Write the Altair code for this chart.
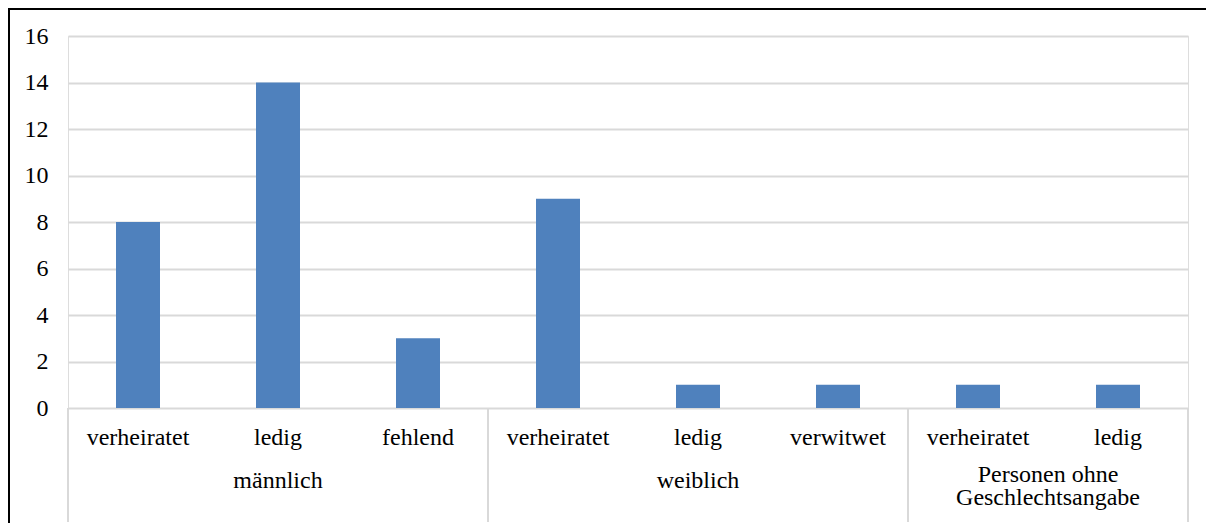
import altair as alt
import pandas as pd

# ---- data ----
groups = ["männlich", "männlich", "männlich",
          "weiblich", "weiblich", "weiblich",
          "Personen ohne\nGeschlechtsangabe", "Personen ohne\nGeschlechtsangabe"]
statuses = ["verheiratet", "ledig", "fehlend",
            "verheiratet", "ledig", "verwitwet",
            "verheiratet", "ledig"]
counts = [8, 14, 3, 9, 1, 1, 1, 1]
y_ticks = [0, 2, 4, 6, 8, 10, 12, 14, 16]

# ---- derived tables ----
bars = pd.DataFrame({
    "group": groups,
    "status": statuses,
    "count": counts,
    "pos": [i + 0.5 for i in range(len(statuses))],
})

group_order = []
for g in groups:
    if g not in group_order:
        group_order.append(g)
edges = [0]
centers = []
start = 0
for g in group_order:
    n = groups.count(g)
    centers.append(start + n / 2)
    start += n
    edges.append(start)
grp = pd.DataFrame({"name": group_order, "center": centers,
                    "multi": ["\n" in g for g in group_order]})
sep = pd.DataFrame({"edge": edges})

W, H = 1120, 372
FONT = "'Liberation Serif', 'Times New Roman', Times, 'DejaVu Serif', serif"
FS = 24
xscale = alt.Scale(domain=[0, len(statuses)], nice=False, zero=False, padding=0)

bar_layer = alt.Chart(bars).mark_bar(size=44, color="#4f81bd").encode(
    x=alt.X("pos:Q", scale=xscale, axis=None),
    y=alt.Y("count:Q", scale=alt.Scale(domain=[0, 16], nice=False),
            axis=alt.Axis(values=y_ticks, title=None, grid=True,
                          gridColor="#d9d9d9", gridWidth=2, domain=False,
                          ticks=False, labelPadding=20, labelFont=FONT,
                          labelFontSize=FS, labelColor="#000000")),
)

sub_labels = alt.Chart(bars).mark_text(
    font=FONT, fontSize=FS, color="#000000", baseline="alphabetic", align="center"
).encode(
    x=alt.X("pos:Q", scale=xscale, axis=None),
    y=alt.value(H + 37),
    text="status:N",
)

group_single = alt.Chart(grp).transform_filter("!datum.multi").mark_text(
    font=FONT, fontSize=FS, color="#000000", baseline="alphabetic", align="center"
).encode(
    x=alt.X("center:Q", scale=xscale, axis=None),
    y=alt.value(H + 80),
    text="name:N",
)

group_multi = alt.Chart(grp).transform_filter("datum.multi").mark_text(
    font=FONT, fontSize=FS, color="#000000", baseline="alphabetic", align="center",
    lineBreak="\n", lineHeight=23
).encode(
    x=alt.X("center:Q", scale=xscale, axis=None),
    y=alt.value(H + 74),
    text="name:N",
)

separators = alt.Chart(sep).mark_rule(color="#d9d9d9", strokeWidth=2).encode(
    x=alt.X("edge:Q", scale=xscale, axis=None),
    y=alt.value(H),
    y2=alt.value(H + 114),
)

frame_df = pd.DataFrame({"k": [0]})
frame_left = alt.Chart(frame_df).mark_rule(color="#000000", strokeWidth=2).encode(
    x=alt.value(-59), y=alt.value(-27), y2=alt.value(H + 140),
)
frame_top = alt.Chart(frame_df).mark_rule(color="#000000", strokeWidth=2).encode(
    x=alt.value(-60), x2=alt.value(W + 20), y=alt.value(-27),
)

chart = alt.layer(
    bar_layer, separators, sub_labels, group_single, group_multi,
    frame_left, frame_top,
).properties(
    width=W, height=H,
    autosize="none",
    padding={"left": 60, "top": 28, "right": 18, "bottom": 115},
).configure_view(stroke=None).configure(background="#ffffff")

chart.save("out.html", embed_options={"renderer": "svg", "actions": False})
